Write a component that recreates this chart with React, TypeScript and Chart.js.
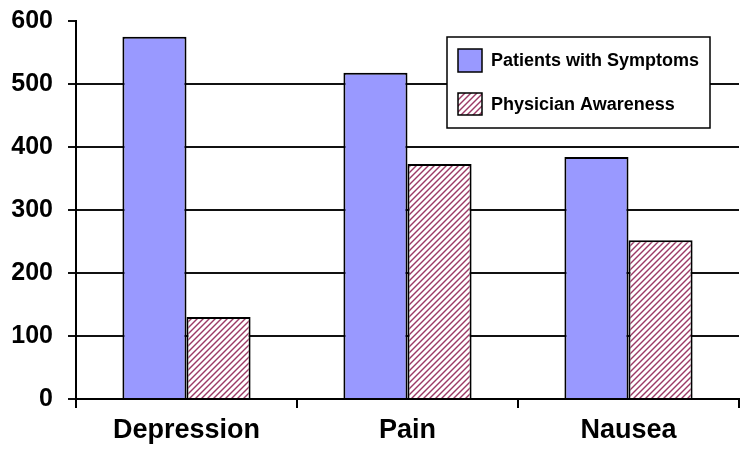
import React, { useEffect, useRef } from "react";
import { Chart, registerables } from "chart.js";

Chart.register(...registerables);

const categories = ["Depression", "Pain", "Nausea"];
const patientsWithSymptoms = [575, 518, 384];
const physicianAwareness = [130, 373, 252];
const seriesNames = ["Patients with Symptoms", "Physician Awareness"];
const yTicks = [0, 100, 200, 300, 400, 500, 600];

const FONT = '"Liberation Sans", Arial, sans-serif';
const BLUE = "#9999FF";
const MAROON = "#9b3a66";

function makeHatch(): CanvasPattern | string {
  const c = document.createElement("canvas");
  const p = 6;
  c.width = p;
  c.height = p;
  const g = c.getContext("2d");
  if (!g) return MAROON;
  g.fillStyle = "#ffffff";
  g.fillRect(0, 0, p, p);
  g.strokeStyle = MAROON;
  g.lineWidth = 1.4;
  for (const k of [0, p, 2 * p]) {
    g.beginPath();
    g.moveTo(k + 2, -2);
    g.lineTo(k - p - 2, p + 2);
    g.stroke();
  }
  const pat = g.createPattern(c, "repeat");
  return pat || MAROON;
}

export default function App() {
  const ref = useRef<HTMLCanvasElement | null>(null);

  useEffect(() => {
    if (!ref.current) return;
    const hatch = makeHatch();

    const legendPlugin = {
      id: "boxLegend",
      afterDraw(chart: any) {
        const ctx = chart.ctx as CanvasRenderingContext2D;
        ctx.save();
        ctx.fillStyle = "#ffffff";
        ctx.fillRect(447, 37, 263, 91);
        ctx.strokeStyle = "#000";
        ctx.lineWidth = 1.5;
        ctx.strokeRect(447, 37, 263, 91);
        ctx.fillStyle = BLUE;
        ctx.fillRect(458, 49, 24, 23);
        ctx.strokeRect(458, 49, 24, 23);
        ctx.fillStyle = hatch as any;
        ctx.fillRect(458, 93, 24, 22);
        ctx.strokeRect(458, 93, 24, 22);
        ctx.fillStyle = "#000";
        ctx.font = `bold 18px ${FONT}`;
        ctx.textBaseline = "middle";
        ctx.textAlign = "left";
        ctx.fillText(seriesNames[0], 491, 61);
        ctx.fillText(seriesNames[1], 491, 105);
        ctx.restore();
      },
    };

    const chart = new Chart(ref.current, {
      type: "bar",
      data: {
        labels: categories,
        datasets: [
          {
            label: seriesNames[0],
            data: patientsWithSymptoms,
            backgroundColor: BLUE,
            borderColor: "#000",
            borderWidth: 2,
            categoryPercentage: 0.58,
            barPercentage: 1.0,
          },
          {
            label: seriesNames[1],
            data: physicianAwareness,
            backgroundColor: hatch as any,
            borderColor: "#000",
            borderWidth: 2,
            categoryPercentage: 0.58,
            barPercentage: 1.0,
          },
        ],
      },
      options: {
        animation: false,
        responsive: true,
        maintainAspectRatio: false,
        layout: { padding: { left: 0, right: 11, top: 21, bottom: 0 } },
        plugins: {
          legend: { display: false },
          tooltip: { enabled: false },
        },
        scales: {
          x: {
            offset: true,
            grid: {
              offset: true,
              drawOnChartArea: false,
              drawTicks: true,
              tickLength: 9,
              color: "#000",
              lineWidth: 2,
            },
            border: { display: true, color: "#000", width: 2 },
            ticks: {
              color: "#000",
              font: { family: FONT, size: 27, weight: "bold" },
              padding: 6,
              maxRotation: 0,
            },
            afterFit: (s: any) => {
              s.height = 54;
              s.paddingLeft = 0;
              s.paddingRight = 0;
            },
          },
          y: {
            min: 0,
            max: 600,
            afterBuildTicks: (s: any) => {
              s.ticks = yTicks.map((v) => ({ value: v }));
            },
            grid: {
              color: (c: any) =>
                c.tick && c.tick.value === 600 ? "rgba(0,0,0,0)" : "#111",
              tickColor: "#111",
              lineWidth: 2,
              tickLength: 8,
            },
            border: { display: true, color: "#000", width: 2 },
            ticks: {
              color: "#000",
              font: { family: FONT, size: 25, weight: "bold" },
              padding: 15,
            },
            afterFit: (s: any) => {
              s.width = 76;
              s.paddingTop = 0;
              s.paddingBottom = 0;
            },
          },
        },
      },
      plugins: [legendPlugin],
    });

    return () => chart.destroy();
  }, []);

  return (
    <div
      style={{
        position: "absolute",
        left: 0,
        top: 0,
        width: 750,
        height: 453,
        background: "#fff",
      }}
    >
      <canvas ref={ref} />
    </div>
  );
}
